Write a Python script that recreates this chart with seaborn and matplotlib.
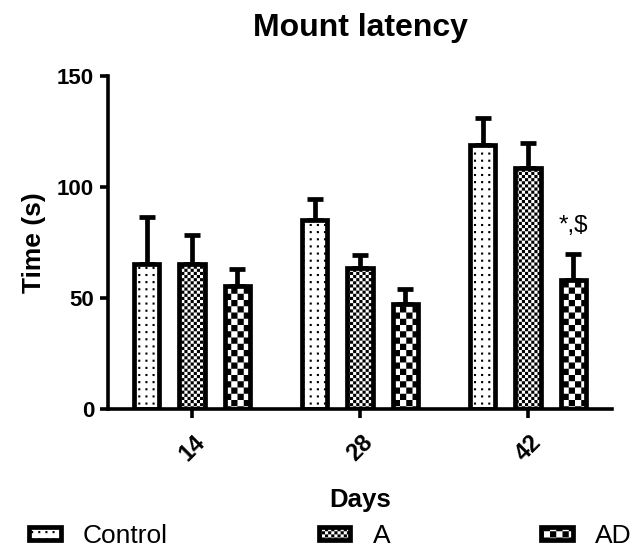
import warnings
warnings.filterwarnings("ignore")
import numpy as np
import pandas as pd
import matplotlib
matplotlib.use("Agg")
import matplotlib.pyplot as plt
import matplotlib.patches as mpatches
from matplotlib import hatch as mhatch
from matplotlib.path import Path
import seaborn as sns

# ---------------- data ----------------
days = ["14", "28", "42"]
groups = ["Control", "A", "AD"]
control_mean = [65.3, 85.1, 118.8]
control_err = [21.4, 9.5, 12.4]
a_mean = [65.3, 63.5, 108.6]
a_err = [13.0, 6.0, 11.0]
ad_mean = [55.4, 47.4, 58.0]
ad_err = [7.5, 6.8, 12.0]
annotation_text = "*,$"
annotation_day = "42"
annotation_group = "AD"


# ---------------- custom fill patterns (checker / dot grid) ----------------
class PatternFill(mhatch.HatchPatternBase):
    """'c' coarse checker, 'f' fine checker, 'd' dot grid."""
    def __init__(self, hatch, density):
        self.cells = []
        m = 0.007
        if 'c' in hatch or 'f' in hatch:
            n = 16 if 'c' in hatch else 32
            s = 1.0 / n
            for i in range(n):
                for j in range(n):
                    if (i + j) % 2 == 0:
                        self.cells.append((i * s + m, j * s + m, (i + 1) * s - m, (j + 1) * s - m))
        elif 'd' in hatch:
            n = 14
            s = 1.0 / n
            r = 0.0035
            for i in range(n):
                for j in range(n):
                    cx, cy = (i + 0.5) * s, (j + 0.5) * s
                    self.cells.append((cx - r, cy - r, cx + r, cy + r))
        self.num_vertices = 5 * len(self.cells)

    def set_vertices_and_codes(self, vertices, codes):
        for k, (x0, y0, x1, y1) in enumerate(self.cells):
            vertices[5 * k:5 * k + 5] = [(x0, y0), (x1, y0), (x1, y1), (x0, y1), (x0, y0)]
            codes[5 * k] = Path.MOVETO
            codes[5 * k + 1:5 * k + 4] = Path.LINETO
            codes[5 * k + 4] = Path.CLOSEPOLY


mhatch._hatch_types.append(PatternFill)

# ---------------- style ----------------
sns.set_style("ticks")
plt.rcParams['font.family'] = ['Liberation Sans', 'DejaVu Sans']
plt.rcParams['hatch.linewidth'] = 1.0
plt.rcParams['hatch.color'] = 'black'
plt.rcParams['text.color'] = 'black'
plt.rcParams['axes.labelcolor'] = 'black'
plt.rcParams['xtick.color'] = 'black'
plt.rcParams['ytick.color'] = 'black'

df = pd.DataFrame({
    "Days": days * 3,
    "Group": [g for g in groups for _ in days],
    "Time": control_mean + a_mean + ad_mean,
})
errs = {"Control": control_err, "A": a_err, "AD": ad_err}
hatches = {"Control": "d", "A": "f", "AD": "c"}

fig = plt.figure(figsize=(6.44, 5.49), dpi=100)
ax = fig.add_axes([108 / 644, 140 / 549, 504 / 644, 333 / 549])

sns.barplot(data=df, x="Days", y="Time", hue="Group", order=days, hue_order=groups,
            palette={g: "white" for g in groups}, saturation=1, edgecolor="black",
            linewidth=3.4, width=0.812, gap=0.45, errorbar=None, legend=False, ax=ax)

ann_xy = None
for cont, g in zip(ax.containers, groups):
    xs, hs = [], []
    for bar, d in zip(cont.patches, days):
        bar.set_hatch(hatches[g])
        bar.set_zorder(2)
        xs.append(bar.get_x() + bar.get_width() / 2)
        hs.append(bar.get_height())
    e = np.asarray(errs[g])
    ax.errorbar(xs, hs, yerr=[np.zeros_like(e), e], fmt="none", ecolor="black",
                elinewidth=3.4, capsize=5.5, capthick=3.4, zorder=1.5)
    if g == annotation_group:
        i = days.index(annotation_day)
        ann_xy = (xs[i], hs[i] + e[i])

ax.annotate(annotation_text, xy=ann_xy, xytext=(0, 12), textcoords="offset points",
            ha="center", va="bottom", fontsize=17.5, color="black")

ax.set_xlim(-0.5, 2.5)
ax.set_ylim(0, 150)
ax.set_yticks([0, 50, 100, 150])
sns.despine(ax=ax)
for sp in ["left", "bottom"]:
    ax.spines[sp].set_linewidth(2.6)
    ax.spines[sp].set_color("black")
ax.tick_params(axis="y", length=6, width=2.6, pad=4, labelsize=16, colors="black")
ax.tick_params(axis="x", length=6.5, width=2.6, pad=9, labelsize=17, colors="black")
for lab in ax.get_yticklabels():
    lab.set_fontweight("bold")
for lab in ax.get_xticklabels():
    lab.set_fontweight("bold")
    lab.set_rotation(45)
    lab.set_ha("center")
    lab.set_va("top")

ax.set_ylabel("Time (s)", fontsize=19, fontweight="bold", labelpad=8)
ax.set_xlabel("Days", fontsize=18.5, fontweight="bold", labelpad=16)
ax.set_title("Mount latency", fontsize=23, fontweight="bold", pad=29)

handles = [mpatches.Patch(facecolor="white", edgecolor="black", linewidth=3.4,
                          hatch=hatches[g], label=g) for g in groups]
fig.legend(handles=handles, loc="center", ncol=3, mode="expand", frameon=False,
           bbox_to_anchor=(29 / 644, 10 / 549, 603 / 644, 6 / 549),
           borderaxespad=0, borderpad=0, fontsize=19, handlelength=1.2,
           handleheight=0.4, handletextpad=0.85)

fig.savefig("out.png", dpi=100)
